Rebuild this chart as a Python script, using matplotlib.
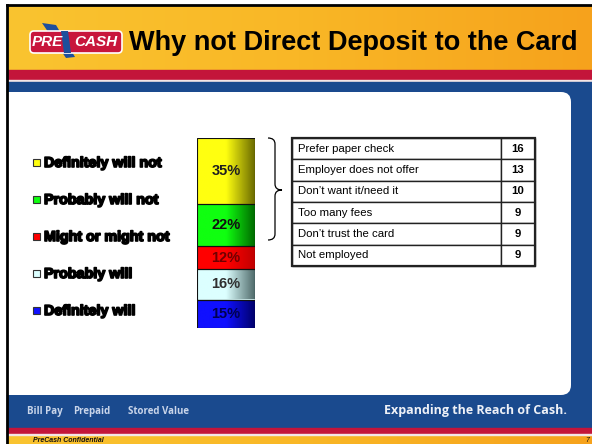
import numpy as np
import matplotlib
matplotlib.use("Agg")
import matplotlib.pyplot as plt
from matplotlib.patches import Rectangle, FancyBboxPatch, Polygon, PathPatch
from matplotlib.path import Path
from matplotlib.colors import LinearSegmentedColormap
import matplotlib.patheffects as pe

plt.rcParams['font.family'] = ['Liberation Sans', 'DejaVu Sans']

# Data (stacked from bottom to top)
categories = ['Definitely will', 'Probably will', 'Might or might not',
              'Probably will not', 'Definitely will not']
shares = [15, 16, 12, 22, 35]
light_cols = ['#1010ff', '#dcffff', '#ff0000', '#10ff10', '#ffff10']
dark_cols = ['#00006a', '#4f6a6a', '#c00000', '#006a00', '#6a6a00']
label_cols = ['#000050', '#303030', '#700000', '#101010', '#202020']

reasons = ['Prefer paper check', 'Employer does not offer', 'Don\u2019t want it/need it',
           'Too many fees', 'Don\u2019t trust the card', 'Not employed']
counts = [16, 13, 10, 9, 9, 9]

W, H = 592, 444
fig = plt.figure(figsize=(W / 100, H / 100), dpi=100)
fig.patch.set_facecolor('white')

# background axes in pixel units
bg = fig.add_axes([0, 0, 1, 1])
bg.set_xlim(0, W)
bg.set_ylim(H, 0)
bg.axis('off')

# header gradient
grad = np.linspace(0, 1, 256).reshape(1, -1)
orange = LinearSegmentedColormap.from_list('o', ['#fac430', '#f9b726', '#f6a21c'])
bg.imshow(grad, cmap=orange, extent=(7, W, 70, 5), aspect='auto', zorder=1)
bg.imshow(grad, cmap=orange, extent=(7, W, H, 435), aspect='auto', zorder=1)
bg.add_patch(Rectangle((7, 70), W - 7, 10, color='#c3153a', zorder=2))
bg.add_patch(Rectangle((7, 80), W - 7, 2.5, color='#f4e6e6', zorder=2))
bg.add_patch(Rectangle((7, 82.5), W - 7, 345.5, color='#1a4a8e', zorder=2))
bg.add_patch(Rectangle((7, 428), W - 7, 5.5, color='#c3153a', zorder=2))
bg.add_patch(Rectangle((7, 433.5), W - 7, 1.5, color='#f4e6e6', zorder=2))

# white content panel with rounded right corners
bg.add_patch(FancyBboxPatch((-20, 92), 591, 303, boxstyle='round,pad=0,rounding_size=10',
                            facecolor='white', edgecolor='none', zorder=3))

# slide frame
bg.plot([7, W], [5, 5], color='black', lw=2, zorder=10)
bg.plot([7, 7], [5, H], color='black', lw=2, zorder=10)

# logo
bg.add_patch(Polygon([(42, 23), (56, 25), (75, 57), (66, 58)], closed=True,
                     facecolor='#1e4f9c', edgecolor='none', zorder=4))
bg.add_patch(FancyBboxPatch((30, 31), 92, 22, boxstyle='round,pad=0,rounding_size=4',
                            facecolor='#c8163c', edgecolor='white', lw=1.2, zorder=5))
bg.add_patch(Polygon([(61, 31), (68, 31), (71, 53), (64, 53)], closed=True,
                     facecolor='#1e4f9c', edgecolor='none', zorder=6))
bg.text(47, 42.5, 'PRE', color='white', fontsize=11, fontweight='bold', style='italic',
        ha='center', va='center', zorder=7)
bg.text(96, 42.5, 'CASH', color='white', fontsize=11, fontweight='bold', style='italic',
        ha='center', va='center', zorder=7)

# title
bg.text(129, 43, 'Why not Direct Deposit to the Card', fontsize=19.5, fontweight='bold',
        color='black', ha='left', va='center', zorder=7)

# footer
for txt, x in zip(['Bill Pay', 'Prepaid', 'Stored Value'], [27, 73, 128]):
    bg.text(x, 411, txt, fontsize=7, color='#c9d5ea', fontweight='bold',
            family=['Open Sans', 'DejaVu Sans'], ha='left', va='center', zorder=7)
bg.text(567, 410, 'Expanding the Reach of Cash.', fontsize=9, color='#eef1f7',
        fontweight='bold', family=['Open Sans', 'DejaVu Sans'], ha='right', va='center', zorder=7)
bg.text(33, 440, 'PreCash Confidential', fontsize=5, style='italic', fontweight='bold',
        color='#111111', ha='left', va='center', zorder=7)
bg.text(587, 440, '7', fontsize=5, style='italic', color='#111111', ha='center', va='center', zorder=7)

# legend (top to bottom)
leg_y = [163, 200, 237, 274, 311]
for y, cat, lc in zip(leg_y, categories[::-1], light_cols[::-1]):
    bg.add_patch(Rectangle((33, y - 4), 7, 7, facecolor=lc, edgecolor='#333333', lw=0.8, zorder=7))
    bg.text(44, y, cat, fontsize=10.3, fontweight='bold', color='black', ha='left', va='center',
            zorder=7, path_effects=[pe.withStroke(linewidth=1.2, foreground='black')])

# curly brace
x0, x1, x2, yt, ym, yb, r = 268, 275, 282, 138, 190, 240, 6
verts = [(x0, yt), (x1, yt), (x1, yt + r), (x1, ym - r), (x1, ym), (x2, ym),
         (x1, ym), (x1, ym + r), (x1, yb - r), (x1, yb), (x0, yb)]
codes = [Path.MOVETO, Path.CURVE3, Path.CURVE3, Path.LINETO, Path.CURVE3, Path.CURVE3,
         Path.CURVE3, Path.CURVE3, Path.LINETO, Path.CURVE3, Path.CURVE3]
bg.add_patch(PathPatch(Path(verts, codes), facecolor='none', edgecolor='black', lw=0.9, zorder=7))

# stacked bar
bx0, bx1, by0, by1 = 197, 255, 138, 328
axb = fig.add_axes([bx0 / W, 1 - by1 / H, (bx1 - bx0) / W, (by1 - by0) / H])
axb.axis('off')
bottom = 0
for val, lc, dc, tc in zip(shares, light_cols, dark_cols, label_cols):
    bars = axb.bar(0, val, width=1.0, bottom=bottom, color=lc, edgecolor='#111111', lw=0.8)
    cmap = LinearSegmentedColormap.from_list('g', [lc, lc, dc])
    img = axb.imshow(grad, cmap=cmap, extent=(-0.5, 0.5, bottom, bottom + val),
                     aspect='auto', zorder=2)
    img.set_clip_path(bars[0])
    axb.bar(0, val, width=1.0, bottom=bottom, color='none', edgecolor='#111111', lw=0.8, zorder=3)
    axb.text(0, bottom + val / 2, f'{val}%', fontsize=10.5, fontweight='bold', color=tc,
             ha='center', va='center', zorder=4)
    bottom += val
axb.set_xlim(-0.5, 0.5)
axb.set_ylim(0, sum(shares))

# table
tx0, tx1, ty0, ty1 = 292, 535, 138, 266
axt = fig.add_axes([tx0 / W, 1 - ty1 / H, (tx1 - tx0) / W, (ty1 - ty0) / H])
axt.axis('off')
cells = [[r_, str(c)] for r_, c in zip(reasons, counts)]
tab = axt.table(cellText=cells, colWidths=[0.86, 0.14], bbox=[0, 0, 1, 1],
                cellLoc='left')
tab.auto_set_font_size(False)
for (row, col), cell in tab.get_celld().items():
    cell.set_edgecolor('#222222')
    cell.set_linewidth(1.0)
    cell.get_text().set_fontsize(8.2)
    if col == 0:
        cell.PAD = 0.03
        cell.get_text().set_ha('left')
    else:
        cell.get_text().set_ha('center')
        cell._loc = 'center'
        cell.get_text().set_fontweight('bold')
axt.add_patch(Rectangle((0, 0), 1, 1, transform=axt.transAxes, fill=False,
                        edgecolor='#222222', lw=1.6, clip_on=False))

fig.savefig('out.png', dpi=100)
